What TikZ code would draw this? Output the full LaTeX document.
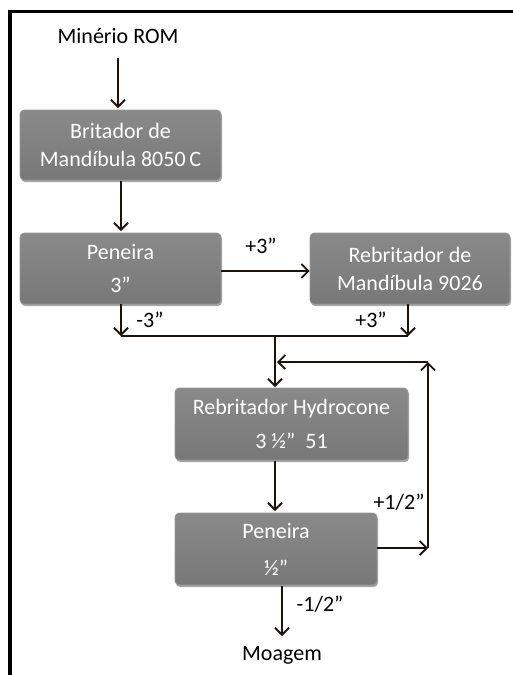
\documentclass[tikz,border=0pt]{standalone}
\usepackage{fontspec}
\setmainfont{Carlito}
\usetikzlibrary{arrows.meta,shadows}
\tikzset{
  box/.style={rectangle, rounded corners=4pt, top color=black!46, bottom color=black!53,
    draw=black!40, line width=0.6pt, text=white, align=center, inner sep=0pt,
    font=\fontsize{22}{28}\selectfont,
    drop shadow={shadow xshift=1pt, shadow yshift=-2pt, opacity=0.35, fill=black}},
  flow/.style={line width=1.8pt, draw=black!85!brown, -{Straight Barb[length=7pt,width=14pt,line width=1.8pt]}},
  plain/.style={line width=1.8pt, draw=black!85!brown},
  lbl/.style={font=\fontsize{22}{26}\selectfont, inner sep=0pt},
  frame/.style={line width=3.5pt, draw=black}
}
\begin{document}
\begin{tikzpicture}[x=1pt,y=-1pt]
\useasboundingbox (0,0) rectangle (513,675);
% frame
\coordinate (ftl) at (10,11.5);
\coordinate (ftr) at (513,11.5);
\coordinate (fbl) at (10,675);
\draw[frame] (ftr) -- (ftl) -- (fbl);

% nodes
\node[lbl] (rom) at (118,36) {Minério ROM};
\node[box, minimum width=201pt, minimum height=70pt] (b1) at (120.5,145) {Britador de\\Mandíbula 8050\,C};
\node[box, minimum width=201pt, minimum height=71pt] (b2) at (120.5,268.5) {Peneira\\[5pt]3”};
\node[box, minimum width=200pt, minimum height=71pt] (b3) at (410,268.5) {Rebritador de\\Mandíbula 9026};
\node[box, minimum width=233pt, minimum height=72pt] (b4) at (291.5,424) {Rebritador Hydrocone\\[6pt]3 ½”\ \ 51};
\node[box, minimum width=202pt, minimum height=72pt] (b5) at (276,549) {Peneira\\[9pt]½”};
\node[lbl] (moag) at (282,655) {Moagem};

% labels
\node[lbl] (l1) at (261,246) {+3”};
\node[lbl] (l2) at (150,320) {-3”};
\node[lbl] (l3) at (371,320) {+3”};
\node[lbl] (l4) at (399,502) {+1/2”};
\node[lbl] (l5) at (320,604) {-1/2”};

% coordinates
\coordinate (j1) at (121,336);
\coordinate (j2) at (408,336);
\coordinate (j3) at (275,336);
\coordinate (r1) at (428,548);
\coordinate (r2) at (428,362);
\coordinate (r3) at (277,362);

% connectors
\draw[flow] (118,58) -- (118,108);
\draw[flow] (121,181) -- (121,231);
\draw[flow] (b2.east |- 0,271) -- (b3.west |- 0,271);
\draw[flow] (121,304) -- (j1);
\draw[flow] (408,304) -- (j2);
\draw[plain] (j1) -- (j2);
\draw[flow] (j3) -- (275,387);
\draw[flow] (275,461) -- (275,511);
\draw[flow] (b5.east |- r1) -- (r1);
\draw[flow] (r1) -- (r2);
\draw[flow] (r2) -- (r3);
\draw[flow] (282,586) -- (282,636);
\end{tikzpicture}
\end{document}
